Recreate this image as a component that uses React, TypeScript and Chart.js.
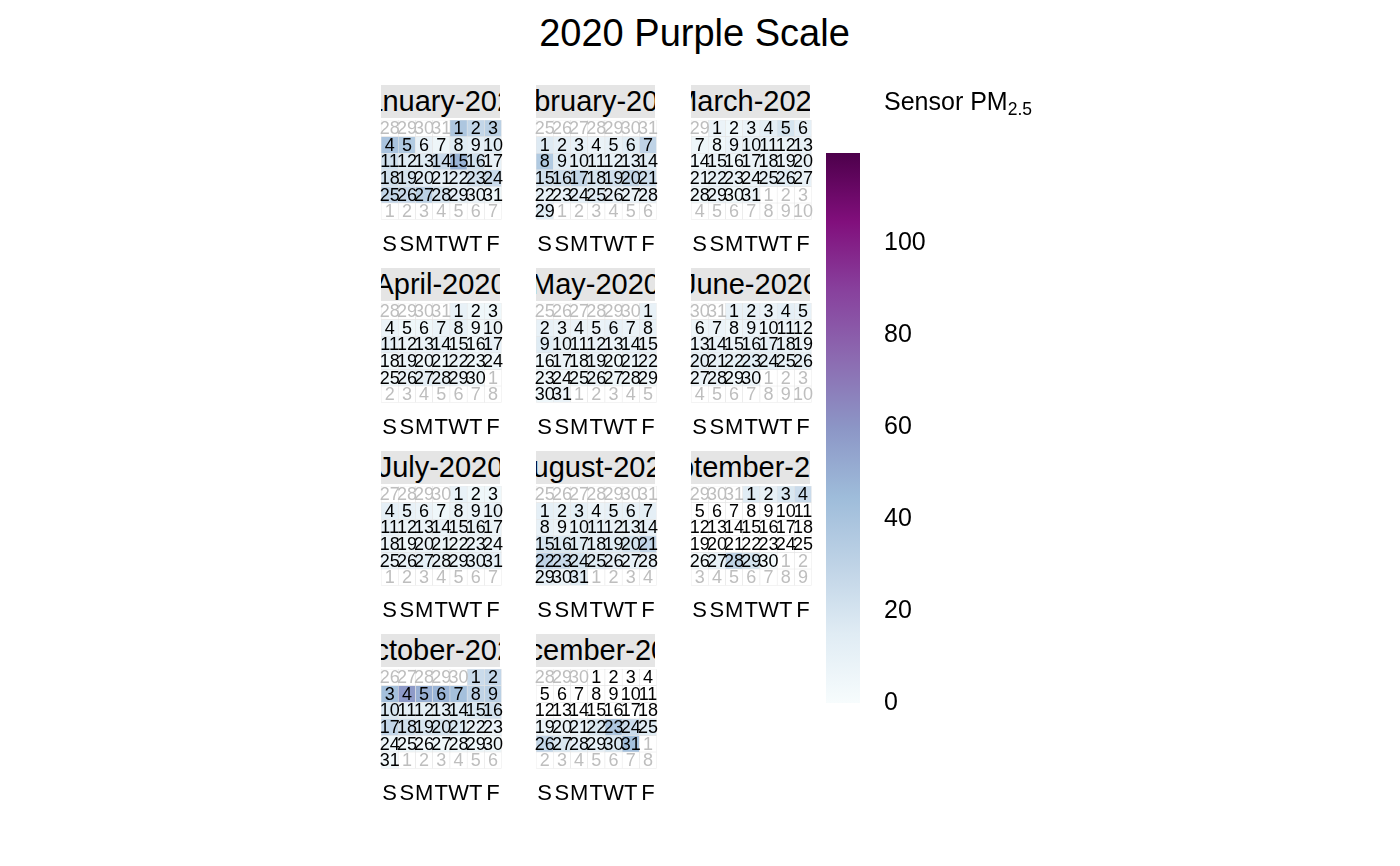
import React, { useEffect, useRef } from 'react';
import { Chart, registerables } from 'chart.js';
Chart.register(...registerables);

const FONT = '"Liberation Sans", Arial, Helvetica, sans-serif';
const YEAR = 2020;
const CHART_TITLE = '2020 Purple Scale';
const MONTH_NAMES = ['January', 'February', 'March', 'April', 'May', 'June', 'July', 'August', 'September', 'October', 'November', 'December'];
const WEEKDAY_LABELS = ['S', 'S', 'M', 'T', 'W', 'T', 'F'];
const COLORBAR_TICKS = [0, 20, 40, 60, 80, 100];
const SCALE_MIN = 0;
const SCALE_MAX = 119.5;
const BUPU = ['#f7fcfd', '#e0ecf4', '#bfd3e6', '#9ebcda', '#8c96c6', '#8c6bb1', '#88419d', '#810f7c', '#4d004b'];

// daily Sensor PM2.5 values (index 0 = day 1); null = no data
const pmJan = [38, 28, 32, 40, 36, 10, 6, 15, 12, 14, 22, 15, 15, 25, 48, 22, 10, 22, 20, 14, 10, 14, 22, 25, 28, 26, 32, 20, 12, 8, 6];
const pmFeb = [16, 12, 10, 8, 10, 14, 30, 36, 14, 12, 10, 10, 12, 15, 22, 24, 28, 20, 22, 28, 24, 10, 8, 12, 14, 10, 8, 10, 14];
const pmMar = [8, 5, 8, 12, 20, 12, 6, 5, 8, 10, 9, 8, 10, 5, 8, 5, 8, 10, 8, 10, 8, 12, 10, 8, 12, 14, 10, 5, 8, 5, 8];
const pmApr = [10, 5, 5, 8, 5, 5, 8, 10, 5, 8, 12, 8, 8, 10, 8, 5, 10, 5, 8, 5, 5, 8, 5, 5, 5, 8, 12, 10, 8, 5];
const pmMay = [10, 10, 8, 8, 8, 10, 8, 10, 15, 10, 8, 10, 8, 10, 8, 5, 8, 5, 8, 5, 8, 8, 6, 5, 6, 8, 6, 5, 6, 5, 8];
const pmJun = [10, 10, 8, 12, 10, 6, 8, 6, 8, 6, 8, 6, 8, 10, 8, 10, 12, 10, 8, 12, 10, 12, 14, 12, 10, 12, 8, 8, 5, 8];
const pmJul = [10, 5, 5, 12, 10, 8, 5, 8, 8, 10, 10, 8, 8, 10, 8, 10, 8, 8, 6, 8, 8, 6, 8, 8, 8, 10, 12, 10, 8, 10, 12];
const pmAug = [12, 10, 12, 8, 10, 10, 12, 10, 8, 10, 12, 10, 10, 12, 20, 18, 15, 12, 15, 20, 28, 30, 26, 20, 15, 12, 10, 10, 12, 8, 15];
const pmSep = [15, 10, 18, 25, null, null, null, null, null, null, null, null, null, null, null, null, null, null, null, null, null, null, null, null, null, 3, 10, 30, 20, 3];
const pmOct = [25, 28, 42, 58, 50, 48, 42, 30, 32, 18, 12, 12, 12, 15, 18, 22, 28, 22, 18, 20, 18, 10, 8, 6, 5, 4, 5, 5, 5, 6, 4];
const pmDec = [null, null, null, null, null, null, null, null, null, null, null, null, null, null, null, null, null, null, 8, 8, 10, 18, 38, 25, 14, 28, 18, 12, 10, 18, 42];

const PANEL_MONTHS = [0, 1, 2, 3, 4, 5, 6, 7, 8, 9, 11];
const PANEL_VALUES = [pmJan, pmFeb, pmMar, pmApr, pmMay, pmJun, pmJul, pmAug, pmSep, pmOct, pmDec];

const PANEL_LEFT = [381, 536, 691];
const PANEL_TOP = [120, 303, 486, 669];
const PANEL_W = 119;
const CELLS_H = 100;
const BORDER = '#e5e5e5';
const OUT_TEXT = '#bebebe';

function hexToRgb(h: string) {
  const n = parseInt(h.slice(1), 16);
  return [(n >> 16) & 255, (n >> 8) & 255, n & 255];
}
function colorFor(v: number) {
  let t = (v - SCALE_MIN) / (SCALE_MAX - SCALE_MIN);
  t = Math.max(0, Math.min(1, t));
  const p = t * (BUPU.length - 1);
  const i = Math.min(BUPU.length - 2, Math.floor(p));
  const f = p - i;
  const a = hexToRgb(BUPU[i]);
  const b = hexToRgb(BUPU[i + 1]);
  const c = a.map((x, k) => Math.round(x + (b[k] - x) * f));
  return `rgb(${c[0]},${c[1]},${c[2]})`;
}

function buildCells(month: number, values: (number | null)[]) {
  const first = new Date(YEAR, month, 1);
  const satIdx = (first.getDay() + 1) % 7;
  const lead = satIdx === 0 ? 7 : satIdx;
  const cells = [] as { day: number; inMonth: boolean; value: number | null }[];
  for (let i = 0; i < 42; i++) {
    const d = new Date(YEAR, month, 1 - lead + i);
    const inMonth = d.getMonth() === month;
    cells.push({ day: d.getDate(), inMonth, value: inMonth ? values[d.getDate() - 1] : null });
  }
  return cells;
}

// resize the canvas so that the chart area lands exactly on the wanted box
function fitChartArea(chart: any, canvas: HTMLCanvasElement, left: number, top: number, w: number, h: number) {
  for (let k = 0; k < 2; k++) {
    const a = chart.chartArea;
    const extraW = chart.width - (a.right - a.left);
    const extraH = chart.height - (a.bottom - a.top);
    chart.resize(Math.round(w + extraW), Math.round(h + extraH));
  }
  const b = chart.chartArea;
  canvas.style.left = `${left - b.left}px`;
  canvas.style.top = `${top - b.top}px`;
}

const dayLabelPlugin = {
  id: 'dayLabels',
  afterDatasetsDraw(chart: any) {
    const ctx = chart.ctx;
    ctx.save();
    ctx.font = `18px ${FONT}`;
    ctx.textAlign = 'center';
    ctx.textBaseline = 'middle';
    chart.data.datasets.forEach((ds: any, i: number) => {
      const meta = chart.getDatasetMeta(i);
      meta.data.forEach((el: any, j: number) => {
        const p = el.getProps(['x', 'y', 'base'], true);
        ctx.fillStyle = ds.dayIn[j] ? '#000000' : OUT_TEXT;
        ctx.fillText(ds.dayLabels[j], p.x, (p.y + p.base) / 2 + 1);
      });
    });
    ctx.restore();
  },
};

function MonthPanel({ month, values, left, top }: { month: number; values: (number | null)[]; left: number; top: number }) {
  const ref = useRef<HTMLCanvasElement>(null);
  useEffect(() => {
    const cells = buildCells(month, values);
    const datasets = [] as any[];
    for (let r = 0; r < 6; r++) {
      const row = cells.slice(r * 7, r * 7 + 7);
      datasets.push({
        data: row.map(() => [r, r + 1]),
        backgroundColor: row.map((c) => (c.inMonth && c.value != null ? colorFor(c.value) : '#ffffff')),
        borderColor: BORDER,
        borderWidth: 0.6,
        borderSkipped: false,
        grouped: false,
        categoryPercentage: 1,
        barPercentage: 1,
        dayLabels: row.map((c) => String(c.day)),
        dayIn: row.map((c) => c.inMonth),
      });
    }
    const canvas = ref.current as HTMLCanvasElement;
    const chart = new Chart(canvas, {
      type: 'bar',
      data: { labels: WEEKDAY_LABELS, datasets },
      options: {
        animation: false,
        responsive: false,
        maintainAspectRatio: false,
        layout: { padding: 0 },
        plugins: { legend: { display: false }, tooltip: { enabled: false }, title: { display: false } },
        scales: {
          x: {
            offset: true,
            grid: { display: false, drawTicks: false },
            border: { display: false },
            ticks: { autoSkip: false, maxRotation: 0, minRotation: 0, color: '#000000', padding: 12, font: { family: FONT, size: 22 } },
          },
          y: { min: 0, max: 6, reverse: true, display: false },
        },
      },
      plugins: [dayLabelPlugin],
    } as any);
    fitChartArea(chart, canvas, left, top, PANEL_W, CELLS_H);
    return () => chart.destroy();
  }, [month, values, left, top]);
  const title = `${MONTH_NAMES[month]}-${YEAR}`;
  return (
    <>
      <div
        style={{
          position: 'absolute', left, top: top - 35, width: PANEL_W, height: 33, background: '#e5e5e5',
          overflow: 'hidden', display: 'flex', justifyContent: 'center', alignItems: 'center',
        }}
      >
        <span style={{ whiteSpace: 'nowrap', fontFamily: FONT, fontSize: 29, lineHeight: 1, color: '#000', flexShrink: 0 }}>{title}</span>
      </div>
      <canvas ref={ref} width={180} height={160} style={{ position: 'absolute', left, top }} />
    </>
  );
}

function ColorBar() {
  const ref = useRef<HTMLCanvasElement>(null);
  useEffect(() => {
    const canvas = ref.current as HTMLCanvasElement;
    const chart = new Chart(canvas, {
      type: 'bar',
      data: {
        labels: [''],
        datasets: [{
          data: [[SCALE_MIN, SCALE_MAX]],
          categoryPercentage: 1,
          barPercentage: 1,
          borderWidth: 0,
          backgroundColor: (c: any) => {
            const ch = c.chart;
            if (!ch.chartArea) return BUPU[0];
            const y = ch.scales.y;
            const g = ch.ctx.createLinearGradient(0, y.getPixelForValue(SCALE_MIN), 0, y.getPixelForValue(SCALE_MAX));
            BUPU.forEach((col, i) => g.addColorStop(i / (BUPU.length - 1), col));
            return g;
          },
        }],
      },
      options: {
        animation: false,
        responsive: false,
        maintainAspectRatio: false,
        layout: { padding: { top: 20, bottom: 20, left: 0, right: 0 } },
        plugins: { legend: { display: false }, tooltip: { enabled: false } },
        scales: {
          x: { display: false, offset: true },
          y: {
            position: 'right',
            min: SCALE_MIN,
            max: SCALE_MAX,
            grid: { display: false, drawTicks: false },
            border: { display: false },
            afterBuildTicks: (axis: any) => { axis.ticks = COLORBAR_TICKS.map((v) => ({ value: v })); },
            afterFit: (axis: any) => { axis.width = 80; },
            ticks: { color: '#000000', padding: 24, font: { family: FONT, size: 25 } },
          },
        },
      },
    } as any);
    fitChartArea(chart, canvas, 826, 153, 34, 550);
    return () => chart.destroy();
  }, []);
  return <canvas ref={ref} width={160} height={620} style={{ position: 'absolute', left: 826, top: 133 }} />;
}

export default function App() {
  useEffect(() => {
    document.body.style.margin = '0';
  }, []);
  return (
    <div style={{ position: 'absolute', left: 0, top: 0, width: 1400, height: 866, background: '#ffffff', overflow: 'hidden' }}>
      <div style={{ position: 'absolute', left: 694.5, top: 14, transform: 'translateX(-50%)', fontFamily: FONT, fontSize: 38, lineHeight: '38px', whiteSpace: 'nowrap', color: '#000' }}>
        {CHART_TITLE}
      </div>
      {PANEL_MONTHS.map((m, i) => (
        <MonthPanel key={m} month={m} values={PANEL_VALUES[i]} left={PANEL_LEFT[i % 3]} top={PANEL_TOP[Math.floor(i / 3)]} />
      ))}
      <ColorBar />
      <div style={{ position: 'absolute', left: 884, top: 89, fontFamily: FONT, fontSize: 25, lineHeight: '25px', whiteSpace: 'nowrap', color: '#000' }}>
        Sensor PM<span style={{ fontSize: '0.7em', position: 'relative', top: '0.3em' }}>2.5</span>
      </div>
    </div>
  );
}
